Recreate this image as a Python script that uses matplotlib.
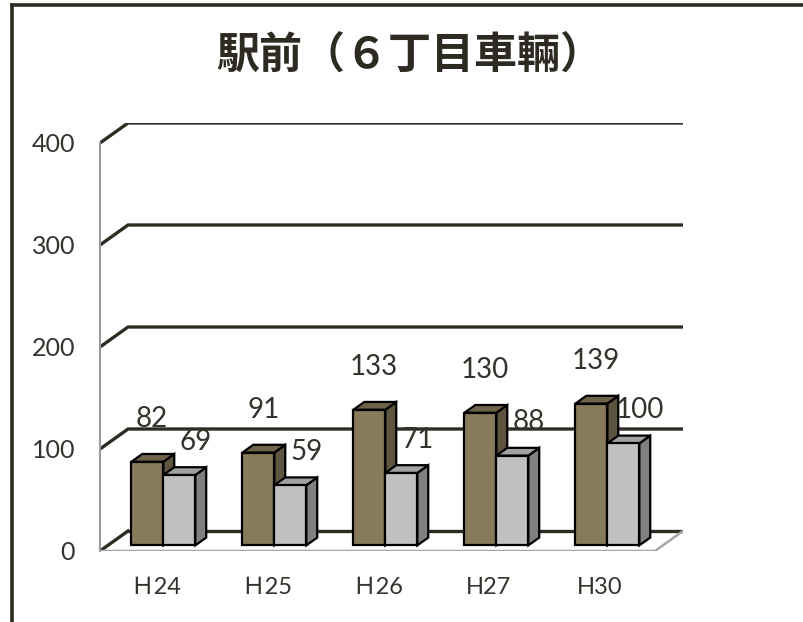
import matplotlib
matplotlib.use("Agg")
import matplotlib.pyplot as plt
from matplotlib.patches import Polygon

plt.rcParams['font.family'] = ['Lato', 'Noto Sans CJK JP', 'DejaVu Sans']

# ---- data ----
title = "駅前（６丁目車輛）"
categories = ["Ｈ24", "Ｈ25", "Ｈ26", "H27", "H30"]
series_a = [82, 91, 133, 130, 139]   # brown
series_b = [69, 59, 71, 88, 100]     # gray
yticks = [0, 100, 200, 300, 400]

# ---- style ----
W, H, DPI = 804, 622, 100
fig = plt.figure(figsize=(W / DPI, H / DPI), dpi=DPI)
fig.patch.set_facecolor("white")

# pixel geometry of the front plane
px_left, px_right_front = 100, 655
px_zero, px_400 = 551, 143
depth_px_x, depth_px_y = 28, 20
n = len(categories)
slot_px = (px_right_front - px_left) / n
val_px = (px_zero - px_400) / 400.0
DX = depth_px_x / slot_px
DY = depth_px_y / val_px

x_lo, x_hi = -0.5, n - 0.5 + DX
y_lo, y_hi = 0, 400 + DY
ax_left = px_left / W
ax_w = (px_left + (x_hi - x_lo) * slot_px) / W - ax_left
ax_bottom = (H - px_zero) / H
ax_h = ((y_hi - y_lo) * val_px) / H
ax = fig.add_axes([ax_left, ax_bottom, ax_w, ax_h])
ax.set_xlim(x_lo, x_hi)
ax.set_ylim(y_lo, y_hi)
ax.patch.set_visible(False)
for s in ["top", "right", "bottom"]:
    ax.spines[s].set_visible(False)
ax.spines["left"].set_bounds(0, 400)
ax.spines["left"].set_color("#9a9a9a")
ax.spines["left"].set_linewidth(1.5)
ax.spines["left"].set_position(("data", -0.5))

text_color = "#33332c"
ax.set_yticks(yticks)
ax.set_yticklabels([str(v) for v in yticks], fontsize=18, color=text_color)
ax.tick_params(axis="y", length=0, pad=18)
ax.set_xticks(range(n))
ax.set_xticklabels(categories, fontsize=17, color=text_color)
ax.tick_params(axis="x", length=0, pad=19)

grid_c = "#2e2b22"
# gridlines (back wall + left wall diagonals)
for v in yticks:
    if v == 0:
        ax.plot([-0.5 + DX, n - 0.5 + DX], [DY, DY], color=grid_c, lw=2.4, zorder=1,
                solid_capstyle="butt")
        ax.plot([-0.5, -0.5 + DX], [0, DY], color=grid_c, lw=2.4, zorder=1)
    else:
        ax.plot([-0.5, -0.5 + DX, n - 0.5 + DX], [v, v + DY, v + DY],
                color=grid_c, lw=2.4, zorder=1, solid_joinstyle="miter")
# floor front edges
ax.plot([-0.5, n - 0.5, n - 0.5 + DX], [0, 0, DY], color="#a6a6a6", lw=1.8, zorder=1)

# bars
bw = 0.288
a_f, b_f = 0.28, 0.67
colors_a = ("#887b5b", "#5e5540", "#6f6449")  # front, side, top
colors_b = ("#c0c0c0", "#808080", "#a2a2a2")


def draw_bar(x0, v, cols, z):
    x1 = x0 + bw
    ax_, ay_ = a_f * DX, a_f * DY
    bx_, by_ = b_f * DX, b_f * DY
    front = [(x0 + ax_, ay_), (x1 + ax_, ay_), (x1 + ax_, v + ay_), (x0 + ax_, v + ay_)]
    side = [(x1 + ax_, ay_), (x1 + bx_, by_), (x1 + bx_, v + by_), (x1 + ax_, v + ay_)]
    top = [(x0 + ax_, v + ay_), (x1 + ax_, v + ay_), (x1 + bx_, v + by_), (x0 + bx_, v + by_)]
    for poly, c in ((side, cols[1]), (top, cols[2]), (front, cols[0])):
        ax.add_patch(Polygon(poly, closed=True, facecolor=c, edgecolor="black",
                             lw=1.6, joinstyle="miter", zorder=z))


for i in range(n):
    draw_bar(i - bw, series_a[i], colors_a, 3 + i * 2)
    draw_bar(i, series_b[i], colors_b, 4 + i * 2)
    ax.text(i - 0.03, series_a[i] + 47, str(series_a[i]), ha="center", va="center",
            fontsize=20, color=text_color, zorder=20)
    ax.text(i + 0.36, series_b[i] + 38, str(series_b[i]), ha="center", va="center",
            fontsize=20, color=text_color, zorder=20)

# title
fig.text(410 / W, 1 - 55 / H, title, ha="center", va="center", fontsize=31,
         fontweight="bold", color="#2d2a22", family=["Noto Sans CJK JP", "DejaVu Sans"])

# chart frame (only top/left visible in the crop)
fig.add_artist(plt.Line2D([12 / W, 12 / W], [0, 1 - 5 / H], color="#2e2b22", lw=2.6,
                          transform=fig.transFigure))
fig.add_artist(plt.Line2D([12 / W, 1], [1 - 5 / H, 1 - 5 / H], color="#2e2b22", lw=2.6,
                          transform=fig.transFigure))

fig.savefig("out.png", dpi=DPI, facecolor="white")
